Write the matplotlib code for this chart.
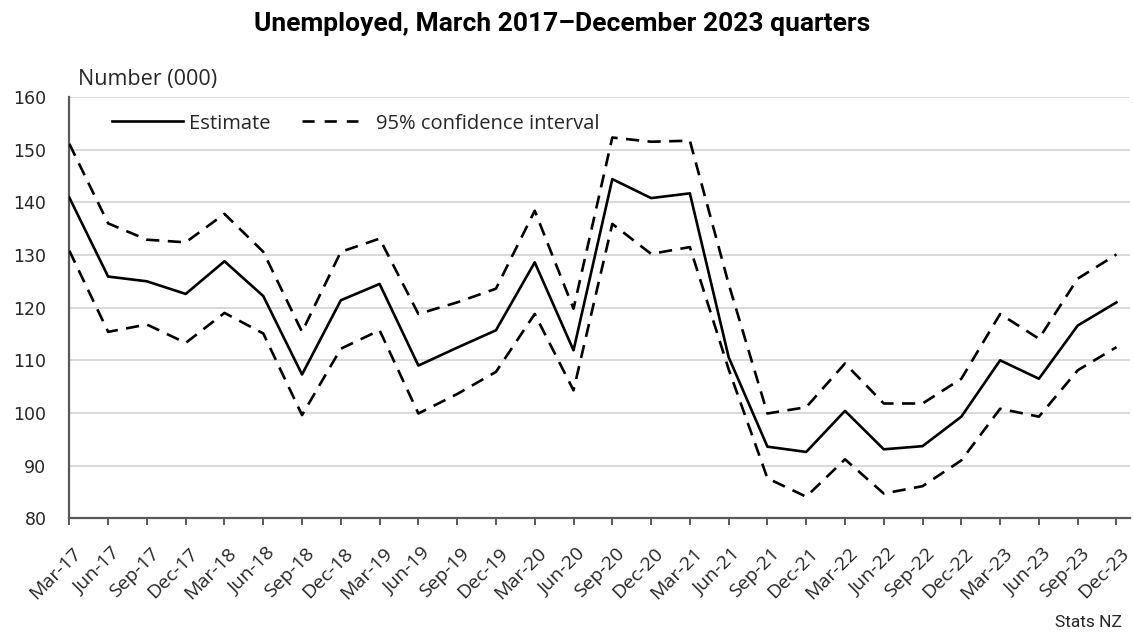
import matplotlib
matplotlib.use("Agg")
import matplotlib.pyplot as plt
import matplotlib.transforms as mtransforms
from matplotlib.lines import Line2D

quarters = ["Mar-17", "Jun-17", "Sep-17", "Dec-17", "Mar-18", "Jun-18", "Sep-18",
            "Dec-18", "Mar-19", "Jun-19", "Sep-19", "Dec-19", "Mar-20", "Jun-20",
            "Sep-20", "Dec-20", "Mar-21", "Jun-21", "Sep-21", "Dec-21", "Mar-22",
            "Jun-22", "Sep-22", "Dec-22", "Mar-23", "Jun-23", "Sep-23", "Dec-23"]

estimate = [140.9, 125.9, 125.0, 122.6, 128.8, 122.2, 107.3, 121.4, 124.5, 109.0,
            112.4, 115.7, 128.6, 111.9, 144.4, 140.8, 141.7, 110.6, 93.6, 92.6,
            100.4, 93.1, 93.7, 99.3, 110.0, 106.5, 116.6, 121.0]

upper_ci = [151.1, 136.0, 132.9, 132.4, 137.8, 130.6, 115.4, 130.6, 133.1, 118.8,
            121.0, 123.6, 138.4, 119.8, 152.3, 151.5, 151.7, 124.5, 99.9, 101.1,
            109.4, 101.8, 101.8, 106.5, 118.8, 114.1, 125.5, 130.1]

lower_ci = [130.8, 115.4, 116.8, 113.3, 119.0, 115.1, 99.6, 112.2, 115.7, 99.9,
            103.6, 107.8, 118.8, 104.3, 135.9, 130.2, 131.5, 108.3, 87.6, 84.1,
            91.2, 84.7, 86.1, 91.0, 100.8, 99.3, 108.1, 112.5]

y_ticks = [80, 90, 100, 110, 120, 130, 140, 150, 160]

body_font = ["Open Sans", "DejaVu Sans"]
digit_font = ["DejaVu Sans"]
head_font = ["Roboto", "DejaVu Sans"]
text_color = "#262626"
axis_color = "#595959"
line_w = 1.9
dash = (0, (5.0, 3.2))

fig = plt.figure(figsize=(11.33, 6.33), dpi=100)
ax = fig.add_axes([0.0612, 0.1812, 0.9362, 0.6656])

x = list(range(len(quarters)))
ax.plot(x, estimate, color="black", lw=line_w, zorder=3)
ax.plot(x, upper_ci, color="black", lw=line_w, linestyle=dash, zorder=3)
ax.plot(x, lower_ci, color="black", lw=line_w, linestyle=dash, zorder=3)

ax.set_xlim(0, 27.35)
ax.set_ylim(80, 160)
ax.set_yticks(y_ticks)
ax.set_xticks(x)
ax.set_xticklabels(quarters)

ax.grid(axis="y", color="#d9d9d9", lw=1.4, zorder=0)
ax.set_axisbelow(True)
for side in ("top", "right"):
    ax.spines[side].set_visible(False)
for side in ("left", "bottom"):
    ax.spines[side].set_color(axis_color)
    ax.spines[side].set_linewidth(1.6)

ax.tick_params(axis="y", length=0, pad=16.5, labelsize=12.5, labelcolor=text_color)
ax.tick_params(axis="x", length=5.2, width=1.4, color=axis_color, pad=0,
               labelsize=14, labelcolor=text_color)
for lab in ax.get_yticklabels():
    lab.set_fontfamily(digit_font)

offset = mtransforms.ScaledTranslation(3 / 100, -19 / 100, fig.dpi_scale_trans)
for lab in ax.get_xticklabels():
    lab.set_fontfamily(body_font)
    lab.set_rotation(45)
    lab.set_rotation_mode("anchor")
    lab.set_ha("right")
    lab.set_va("top")
    lab.set_transform(lab.get_transform() + offset)

# Two legend entries, each with its own handle length
leg_prop = {"family": body_font, "size": 14.5}
h_est = Line2D([], [], color="black", lw=line_w)
h_ci = Line2D([], [], color="black", lw=line_w, linestyle=(0, (4.6, 3.8)))
leg1 = ax.legend([h_est], ["Estimate"], loc="center left",
                 bbox_to_anchor=(0.0403, 0.937), frameon=False, prop=leg_prop,
                 handlelength=3.5, handletextpad=0.3, borderpad=0, borderaxespad=0)
ax.add_artist(leg1)
leg2 = ax.legend([h_ci], ["95% confidence interval"], loc="center left",
                 bbox_to_anchor=(0.2194, 0.937), frameon=False, prop=leg_prop,
                 handlelength=2.8, handletextpad=0.85, borderpad=0, borderaxespad=0)
for lg in (leg1, leg2):
    for t in lg.get_texts():
        t.set_color(text_color)

fig.text(0.0688, 0.875, "Number (000)", fontsize=15.5, family=body_font,
         color=text_color, ha="left", va="center")

fig.text(0.4958, 0.951, "Unemployed, March 2017\u2013December 2023 quarters",
         fontsize=19, fontweight="bold", family=head_font, color="black",
         ha="center", va="baseline")

fig.text(0.990, 0.0095, "Stats NZ", fontsize=12.5, family=head_font,
         color=text_color, ha="right", va="baseline")

fig.savefig("out.png", dpi=100, facecolor="white")
